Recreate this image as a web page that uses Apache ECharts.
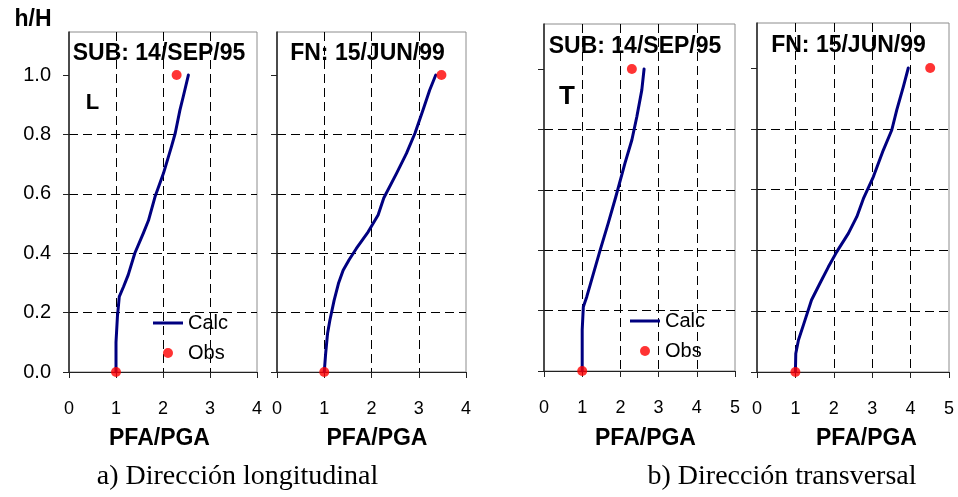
<!DOCTYPE html>
<html>
<head>
<meta charset="utf-8">
<script src="https://cdn.jsdelivr.net/npm/echarts@6/dist/echarts.min.js"></script>
<style>
  html, body { margin: 0; padding: 0; background: #ffffff; }
  #chart { width: 958px; height: 497px; }
</style>
</head>
<body>
<div id="chart"></div>
<script>
// Peak floor acceleration profiles (PFA/PGA versus relative height h/H)

const hTicks = [0, 0.2, 0.4, 0.6, 0.8, 1.0];
const xTicksL = [0, 1, 2, 3, 4];
const xTicksT = [0, 1, 2, 3, 4, 5];

// a) longitudinal, SUB 14/SEP/95
const subL_h    = [0, 0.10, 0.186, 0.254, 0.287, 0.327, 0.40, 0.467, 0.51, 0.59, 0.669, 0.759, 0.804, 0.882, 0.927, 1.0];
const subL_calc = [1.0, 1.0, 1.03, 1.07, 1.16, 1.26, 1.40, 1.58, 1.69, 1.83, 2.01, 2.18, 2.26, 2.36, 2.43, 2.54];
const subL_obsH = [0, 1.0];
const subL_obs  = [1.0, 2.29];

// a) longitudinal, FN 15/JUN/99
const fnL_h    = [0, 0.063, 0.13, 0.175, 0.242, 0.298, 0.343, 0.379, 0.416, 0.472, 0.529, 0.586, 0.669, 0.736, 0.804, 0.882, 0.949, 1.0];
const fnL_calc = [1.0, 1.03, 1.07, 1.12, 1.21, 1.30, 1.40, 1.53, 1.68, 1.93, 2.14, 2.26, 2.53, 2.74, 2.92, 3.09, 3.23, 3.36];
const fnL_obsH = [0, 1.0];
const fnL_obs  = [1.0, 3.48];

// b) transversal, SUB 14/SEP/95
const subT_h    = [0, 0.136, 0.213, 0.246, 0.29, 0.40, 0.489, 0.577, 0.688, 0.765, 0.842, 0.93, 1.0];
const subT_calc = [1.0, 1.0, 1.03, 1.12, 1.22, 1.47, 1.68, 1.88, 2.12, 2.30, 2.43, 2.56, 2.62];
const subT_obsH = [0, 1.0];
const subT_obs  = [1.0, 2.30];

// b) transversal, FN 15/JUN/99
const fnT_h    = [0, 0.061, 0.105, 0.155, 0.237, 0.292, 0.346, 0.396, 0.456, 0.511, 0.57, 0.642, 0.73, 0.796, 0.862, 0.938, 1.0];
const fnT_calc = [1.0, 1.01, 1.08, 1.21, 1.42, 1.64, 1.86, 2.08, 2.38, 2.60, 2.77, 3.03, 3.29, 3.51, 3.64, 3.81, 3.94];
const fnT_obsH = [0, 1.0];
const fnT_obs  = [1.0, 4.51];

const panelTitles = ['SUB: 14/SEP/95', 'FN: 15/JUN/99', 'SUB: 14/SEP/95', 'FN: 15/JUN/99'];
const xAxisName = 'PFA/PGA';
const yAxisName = 'h/H';
const captions = ['a) Dirección longitudinal', 'b) Dirección transversal'];
const directionTags = ['L', 'T'];

const SANS = "'Liberation Sans', Arial, sans-serif";
const SERIF = "'Liberation Serif', 'Times New Roman', serif";
const NAVY = '#000080';
const RED = '#ff0000';

const panels = [
  { calc: subL_calc, h: subL_h, obs: subL_obs, obsH: subL_obsH, xTicks: xTicksL,
    grid: { left: 69, top: 32, width: 188, height: 340 }, yMax: 1.145, showY: true },
  { calc: fnL_calc, h: fnL_h, obs: fnL_obs, obsH: fnL_obsH, xTicks: xTicksL,
    grid: { left: 277, top: 32, width: 189, height: 340 }, yMax: 1.145, showY: false },
  { calc: subT_calc, h: subT_h, obs: subT_obs, obsH: subT_obsH, xTicks: xTicksT,
    grid: { left: 544, top: 24, width: 191, height: 347 }, yMax: 1.149, showY: false },
  { calc: fnT_calc, h: fnT_h, obs: fnT_obs, obsH: fnT_obsH, xTicks: xTicksT,
    grid: { left: 757, top: 23, width: 192, height: 349 }, yMax: 1.148, showY: false }
];

const pairs = (xs, ys) => xs.map((x, i) => [x, ys[i]]);

const dashed = { show: true, showMinLine: false, showMaxLine: false,
  lineStyle: { color: '#000000', width: 1, type: [9, 5] } };

const option = {
  backgroundColor: '#ffffff',
  animation: false,
  grid: panels.map(p => Object.assign({ show: true, borderColor: '#8c8c8c', borderWidth: 1,
    backgroundColor: 'transparent' }, p.grid)),
  xAxis: panels.map((p, i) => ({
    gridIndex: i, type: 'value', min: 0, max: p.xTicks[p.xTicks.length - 1], interval: 1,
    axisLine: { show: true, onZero: false, lineStyle: { color: '#222222', width: 1 } },
    axisTick: { show: true, inside: false, length: 6, lineStyle: { color: '#222222' } },
    axisLabel: { show: true, margin: 28, fontSize: 18, color: '#000000', fontFamily: SANS },
    splitLine: dashed
  })),
  yAxis: panels.map((p, i) => ({
    gridIndex: i, type: 'value', min: 0, max: p.yMax, interval: 0.2,
    axisLine: { show: true, onZero: false, lineStyle: { color: '#222222', width: 1.5 } },
    axisTick: { show: true, inside: false, length: 6, customValues: hTicks,
      lineStyle: { color: '#222222' } },
    axisLabel: { show: p.showY, customValues: hTicks, margin: 18, fontSize: 20,
      color: '#000000', fontFamily: SANS, formatter: v => v.toFixed(1) },
    splitLine: dashed
  })),
  legend: [
    { left: 153, top: 313 },
    { left: 630, top: 311 }
  ].map(pos => Object.assign({
    orient: 'vertical', padding: 0, itemWidth: 30, itemHeight: 10, itemGap: 10,
    selectedMode: false, symbolKeepAspect: true,
    itemStyle: { borderWidth: 0 },
    textStyle: { fontSize: 20, color: '#000000', fontFamily: SANS },
    data: [
      { name: 'Calc', icon: 'path://M0,0L30,0L30,3L0,3Z' },
      { name: 'Obs', icon: 'circle' }
    ]
  }, pos)),
  series: panels.flatMap((p, i) => [
    {
      name: 'Calc', type: 'line', xAxisIndex: i, yAxisIndex: i,
      data: pairs(p.calc, p.h), symbol: 'none', z: 3,
      lineStyle: { color: NAVY, width: 3, join: 'round', cap: 'round' },
      itemStyle: { color: NAVY }
    },
    {
      name: 'Obs', type: 'scatter', xAxisIndex: i, yAxisIndex: i,
      data: pairs(p.obs, p.obsH), symbol: 'circle', symbolSize: 10, z: 4,
      itemStyle: { color: RED }
    }
  ]),
  graphic: [
    { type: 'text', x: 33, y: 20, z: 10,
      style: { text: yAxisName, font: "bold 23px " + SANS, fill: '#000', align: 'center', verticalAlign: 'middle' } },
    { type: 'text', x: 159, y: 53.5, z: 10,
      style: { text: panelTitles[0], font: "bold 23px " + SANS, fill: '#000', align: 'center', verticalAlign: 'middle' } },
    { type: 'text', x: 367.5, y: 53.5, z: 10,
      style: { text: panelTitles[1], font: "bold 23px " + SANS, fill: '#000', align: 'center', verticalAlign: 'middle' } },
    { type: 'text', x: 635, y: 46.5, z: 10,
      style: { text: panelTitles[2], font: "bold 23px " + SANS, fill: '#000', align: 'center', verticalAlign: 'middle' } },
    { type: 'text', x: 848.5, y: 46, z: 10,
      style: { text: panelTitles[3], font: "bold 23px " + SANS, fill: '#000', align: 'center', verticalAlign: 'middle' } },
    { type: 'text', x: 92.5, y: 103, z: 10,
      style: { text: directionTags[0], font: "bold 22px " + SANS, fill: '#000', align: 'center', verticalAlign: 'middle' } },
    { type: 'text', x: 567, y: 97, z: 10,
      style: { text: directionTags[1], font: "bold 26px " + SANS, fill: '#000', align: 'center', verticalAlign: 'middle' } },
    { type: 'text', x: 159.5, y: 439, z: 10,
      style: { text: xAxisName, font: "bold 23px " + SANS, fill: '#000', align: 'center', verticalAlign: 'middle' } },
    { type: 'text', x: 377, y: 439, z: 10,
      style: { text: xAxisName, font: "bold 23px " + SANS, fill: '#000', align: 'center', verticalAlign: 'middle' } },
    { type: 'text', x: 645.5, y: 439, z: 10,
      style: { text: xAxisName, font: "bold 23px " + SANS, fill: '#000', align: 'center', verticalAlign: 'middle' } },
    { type: 'text', x: 866.5, y: 439, z: 10,
      style: { text: xAxisName, font: "bold 23px " + SANS, fill: '#000', align: 'center', verticalAlign: 'middle' } },
    { type: 'text', x: 237.5, y: 477, z: 10,
      style: { text: captions[0], font: "28px " + SERIF, fill: '#000', align: 'center', verticalAlign: 'middle' } },
    { type: 'text', x: 782, y: 477, z: 10,
      style: { text: captions[1], font: "28px " + SERIF, fill: '#000', align: 'center', verticalAlign: 'middle' } }
  ]
};

const chart = echarts.init(document.getElementById('chart'), null, { renderer: 'canvas' });
chart.setOption(option);
</script>
</body>
</html>
